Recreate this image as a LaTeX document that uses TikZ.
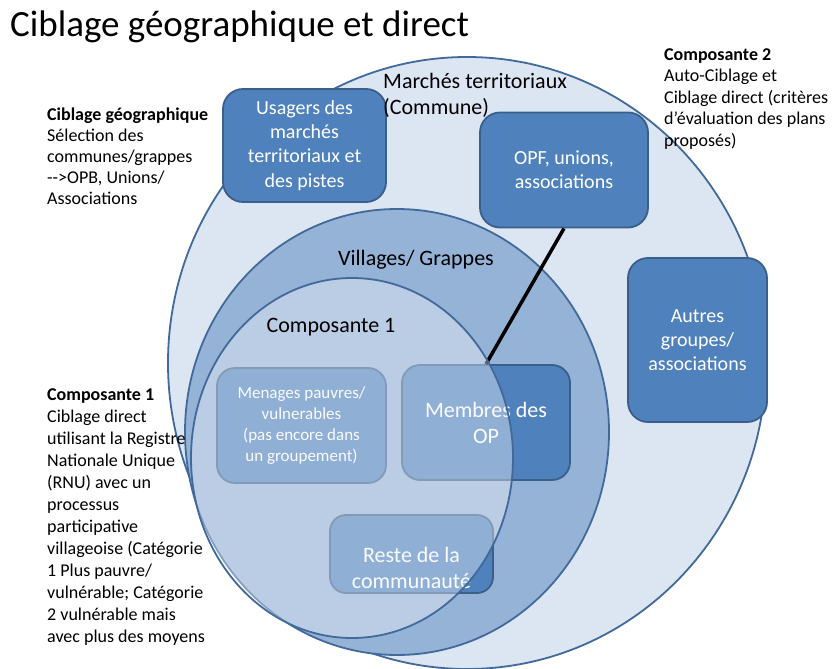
\documentclass[tikz,border=0pt]{standalone}
\usepackage{fontspec}
\setmainfont{Carlito}
\definecolor{outerfill}{HTML}{DCE6F2}
\definecolor{ringline}{HTML}{41699A}
\definecolor{boxfill}{HTML}{4F81BD}
\definecolor{boxline}{HTML}{3A5F8B}
\definecolor{villfill}{HTML}{95B3D7}
\definecolor{overlay}{HTML}{F2F5FB}
\begin{document}
\begin{tikzpicture}[x=1pt,y=-1pt,
  box/.style={draw=boxline, line width=1.8pt, fill=boxfill, rectangle, rounded corners=20pt,
    inner sep=0pt, align=center, text=white},
  btext/.style={font=\fontsize{20}{24.2}\selectfont},
  sidetext/.style={anchor=north west, inner sep=0pt, align=left, font=\fontsize{18}{22}\selectfont},
  lbl/.style={inner sep=0pt, font=\fontsize{22}{26.5}\selectfont}]
\useasboundingbox (0,0) rectangle (839,669);
\fill[white] (0,0) rectangle (839,669);

% title
\node[anchor=base west, inner sep=0pt, font=\fontsize{37}{44}\selectfont] (title) at (10,37) {Ciblage géographique et direct};

% outer ellipse
\draw[ringline, line width=1.8pt, fill=outerfill] (467,363) ellipse [x radius=299pt, y radius=306pt];

% top boxes
\node[box, btext, minimum width=163pt, minimum height=113pt] (usagers) at (304.5,145.5)
  {Usagers des\\marchés\\territoriaux et\\des pistes};
\node[box, btext, minimum width=168pt, minimum height=115pt] (opf) at (564,170)
  {OPF, unions,\\associations};
\node[box, btext, minimum width=139pt, minimum height=164pt] (autres) at (697.5,340)
  {Autres\\groupes/\\associations};

% villages ellipse
\draw[ringline, line width=1.8pt, fill=villfill] (397,432) ellipse [x radius=212pt, y radius=223pt];

% inner boxes
\node[box, font=\fontsize{17}{21}\selectfont, rounded corners=18pt, minimum width=169pt, minimum height=115pt] (menages) at (301.5,425.5)
  {Menages pauvres/\\vulnerables\\(pas encore dans\\un groupement)};
\node[box, font=\fontsize{22}{26}\selectfont, rounded corners=18pt, minimum width=168pt, minimum height=115pt] (membres) at (486,422.5)
  {Membres des\\OP};
\node[box, rounded corners=16pt, minimum width=163pt, minimum height=78pt] (reste) at (411.5,554) {};
\node[text=white, align=center, inner sep=0pt, font=\fontsize{22}{26}\selectfont] (restetxt) at ([yshift=-14pt]reste.center)
  {Reste de la\\communauté};

% connector
\draw[line width=3.5pt, black] (opf.south) -- (membres.north);

% composante 1 overlay
\draw[ringline, line width=1.8pt, fill=overlay, fill opacity=0.4] (352,458) ellipse [x radius=161pt, y radius=180pt];

% ring labels
\node[lbl, anchor=north west, align=left] (marches) at (383,73) {Marchés territoriaux\\(Commune)};
\node[lbl] (villages) at (416,260) {Villages/ Grappes};
\node[lbl] (comp1) at (331,327) {Composante 1};

% side texts
\node[sidetext, font=\fontsize{18}{21}\selectfont] (geo) at (47,108)
  {\textbf{Ciblage géographique}\\Sélection des\\communes/grappes\\-{}->OPB, Unions/\\Associations};
\node[sidetext] (c1) at (47,388)
  {\textbf{Composante 1}\\Ciblage direct\\utilisant la Registre\\Nationale Unique\\(RNU) avec un\\processus\\participative\\villageoise (Catégorie\\1 Plus pauvre/\\vulnérable; Catégorie\\2 vulnérable mais\\avec plus des moyens};
\node[sidetext, font=\fontsize{18}{21.5}\selectfont] (c2) at (664,48)
  {\textbf{Composante 2}\\Auto-Ciblage et\\Ciblage direct (critères\\d’évaluation des plans\\proposés)};
\end{tikzpicture}
\end{document}
